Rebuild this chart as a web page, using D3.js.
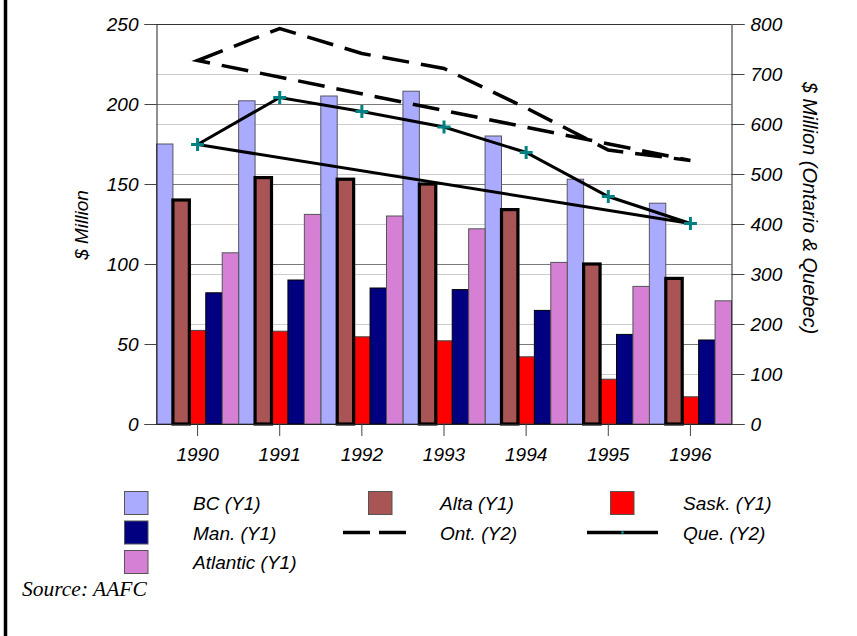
<!DOCTYPE html>
<html>
<head>
<meta charset="utf-8">
<script src="https://cdn.jsdelivr.net/npm/d3@7/dist/d3.min.js"></script>
<style>
  html, body { margin: 0; padding: 0; background: #fff; }
  svg { display: block; }
  .ax text { font-family: "Liberation Sans", Arial, sans-serif; font-style: italic; font-size: 19px; fill: #000; }
</style>
</head>
<body>
<svg id="chart" width="857" height="636"></svg>
<script>
// Farm income by province, 1990-1996 ($ million)
const years    = ["1990", "1991", "1992", "1993", "1994", "1995", "1996"];
const bc       = [175, 202, 205, 208, 180, 153, 138];
const alta     = [140, 154, 153, 150, 134, 100, 91];
const sask     = [58.5, 58, 54.5, 52, 42, 28, 17];
const man      = [82, 90, 85, 84, 71, 56, 52.5];
const atlantic = [107, 131, 130, 122, 101, 86, 77];
// Ontario and Quebec are plotted on the secondary axis
const ont      = [727, 791, 741, 711, 632, 548, 527];
const que      = [559, 653, 625, 594, 543, 455, 401];

const y1Ticks = [0, 50, 100, 150, 200, 250];
const y2Ticks = [0, 100, 200, 300, 400, 500, 600, 700, 800];

const barSeries = [
  { key: "BC",       label: "BC (Y1)",       values: bc,       fill: "#AAAAFF", stroke: "#555566", sw: 1 },
  { key: "Alta",     label: "Alta (Y1)",     values: alta,     fill: "#AA5555", stroke: "#000",    sw: 3.2 },
  { key: "Sask",     label: "Sask. (Y1)",    values: sask,     fill: "#FF0000", stroke: "#444",    sw: 1 },
  { key: "Man",      label: "Man. (Y1)",     values: man,      fill: "#000080", stroke: "#000",    sw: 1 },
  { key: "Atlantic", label: "Atlantic (Y1)", values: atlantic, fill: "#D580D5", stroke: "#555",    sw: 1 }
];

const svg = d3.select("#chart");
const plot = { left: 156.5, right: 731.5, top: 24, bottom: 424 };

const x = d3.scaleBand().domain(years).range([plot.left, plot.right]).padding(0);
const xs = d3.scaleBand().domain(barSeries.map(s => s.key)).range([0, x.bandwidth()]).padding(0);
const y1 = d3.scaleLinear().domain([0, 250]).range([plot.bottom, plot.top]);
const y2 = d3.scaleLinear().domain([0, 800]).range([plot.bottom, plot.top]);

// page frame: heavy rule down the left edge
svg.append("line").attr("x1", 5.5).attr("x2", 5.5).attr("y1", 0).attr("y2", 636)
  .attr("stroke", "#000").attr("stroke-width", 3.5);

// gridlines: dotted for the secondary scale, solid for the primary
svg.append("g").selectAll("line").data(y2Ticks.filter(t => t > 0 && t < 800)).join("line")
  .attr("x1", plot.left).attr("x2", plot.right)
  .attr("y1", d => y2(d) + 0.5).attr("y2", d => y2(d) + 0.5)
  .attr("stroke", "#9a9a9a").attr("stroke-dasharray", "1,1");
svg.append("g").selectAll("line").data(y1Ticks.filter(t => t > 0)).join("line")
  .attr("x1", plot.left).attr("x2", plot.right)
  .attr("y1", d => y1(d) + 0.5).attr("y2", d => y1(d) + 0.5)
  .attr("stroke", d => d === 250 ? "#333" : "#7a7a7a");

// bars; Alberta goes last so its heavy outline sits on top of its neighbours
const order = [0, 2, 3, 4, 1];
const barsG = svg.append("g");
order.forEach(i => {
  const s = barSeries[i];
  barsG.append("g").selectAll("rect").data(s.values).join("rect")
    .attr("x", (d, j) => x(years[j]) + xs(s.key))
    .attr("y", d => y1(d))
    .attr("width", xs.bandwidth())
    .attr("height", d => y1(0) - y1(d))
    .attr("fill", s.fill)
    .attr("stroke", s.stroke)
    .attr("stroke-width", s.sw);
});

// axes
const axL = svg.append("g").attr("class", "ax").attr("transform", `translate(${plot.left},0)`)
  .call(d3.axisLeft(y1).tickValues(y1Ticks).tickSize(12).tickPadding(6));
const axR = svg.append("g").attr("class", "ax").attr("transform", `translate(${plot.right},0)`)
  .call(d3.axisRight(y2).tickValues(y2Ticks).tickSize(13).tickPadding(6));
const axB = svg.append("g").attr("class", "ax").attr("transform", `translate(0,${plot.bottom})`)
  .call(d3.axisBottom(x).tickSize(12).tickPadding(12).tickSizeOuter(0));
[axL, axR, axB].forEach(g => {
  g.select(".domain").attr("stroke", "#222");
  g.selectAll(".tick line").attr("stroke", "#444");
});
axL.selectAll("text").attr("dy", "0.36em");
axR.selectAll("text").attr("dy", "0.36em");
axB.selectAll("text").attr("dy", "0.71em");

// axis titles
svg.append("text").attr("transform", "translate(81,225) rotate(-90)")
  .attr("text-anchor", "middle").attr("dominant-baseline", "central")
  .style("font-family", "Liberation Sans, Arial, sans-serif").style("font-style", "italic").style("font-size", "19px")
  .text("$ Million");
svg.append("text").attr("transform", "translate(810,208) rotate(90)")
  .attr("text-anchor", "middle").attr("dominant-baseline", "central")
  .style("font-family", "Liberation Sans, Arial, sans-serif").style("font-style", "italic").style("font-size", "20px")
  .text("$ Million (Ontario & Quebec)");

// line series run through each year and close back to the first year
const lineClosed = (vals) => d3.line()
  .x((d, j) => x(years[j]) + x.bandwidth() / 2)
  .y(d => y2(d))
  .curve(d3.curveLinearClosed)(vals);

svg.append("path").attr("d", lineClosed(ont))
  .attr("fill", "none").attr("stroke", "#000").attr("stroke-width", 3.5)
  .attr("stroke-dasharray", "27,12");
svg.append("path").attr("d", lineClosed(que))
  .attr("fill", "none").attr("stroke", "#000").attr("stroke-width", 3)
  .attr("stroke-linejoin", "miter");
svg.append("g").selectAll("path").data(que).join("path")
  .attr("transform", (d, j) => `translate(${x(years[j]) + x.bandwidth() / 2},${y2(d)})`)
  .attr("d", "M-6.5,0H6.5M0,-6.5V6.5")
  .attr("stroke", "#008080").attr("stroke-width", 3);

// legend
const legend = [
  { type: "box",  s: barSeries[0], sx: 124, tx: 193, row: 0 },
  { type: "box",  s: barSeries[1], sx: 368, tx: 440, row: 0 },
  { type: "box",  s: barSeries[2], sx: 610, tx: 683, row: 0 },
  { type: "box",  s: barSeries[3], sx: 124, tx: 193, row: 1 },
  { type: "dash", label: "Ont. (Y2)", sx: 343, ex: 412, tx: 440, row: 1 },
  { type: "que",  label: "Que. (Y2)", sx: 587, ex: 658, tx: 683, row: 1 },
  { type: "box",  s: barSeries[4], sx: 124, tx: 193, row: 2 }
];
const rowY = [503, 532.5, 562];
const lg = svg.append("g");
legend.forEach(e => {
  const cy = rowY[e.row];
  if (e.type === "box") {
    lg.append("rect").attr("x", e.sx + 0.5).attr("y", cy - 11.5).attr("width", 23.5).attr("height", 23)
      .attr("fill", e.s.fill).attr("stroke", "#555").attr("stroke-width", 1);
  } else {
    lg.append("line").attr("x1", e.sx).attr("x2", e.ex).attr("y1", cy).attr("y2", cy)
      .attr("stroke", "#000").attr("stroke-width", 3.5)
      .attr("stroke-dasharray", e.type === "dash" ? "27,9" : null);
    if (e.type === "que") {
      lg.append("path").attr("transform", `translate(${(e.sx + e.ex) / 2},${cy})`)
        .attr("d", "M-1.5,0H1.5M0,-1.5V1.5").attr("stroke", "#008080").attr("stroke-width", 1.5);
    }
  }
  lg.append("text").attr("x", e.tx).attr("y", cy + 7)
    .style("font-family", "Liberation Sans, Arial, sans-serif").style("font-style", "italic").style("font-size", "19px")
    .text(e.type === "box" ? e.s.label : e.label);
});

svg.append("text").attr("x", 22).attr("y", 596)
  .style("font-family", "Liberation Serif, Times New Roman, serif").style("font-style", "italic").style("font-size", "21.5px")
  .text("Source: AAFC");
</script>
</body>
</html>
